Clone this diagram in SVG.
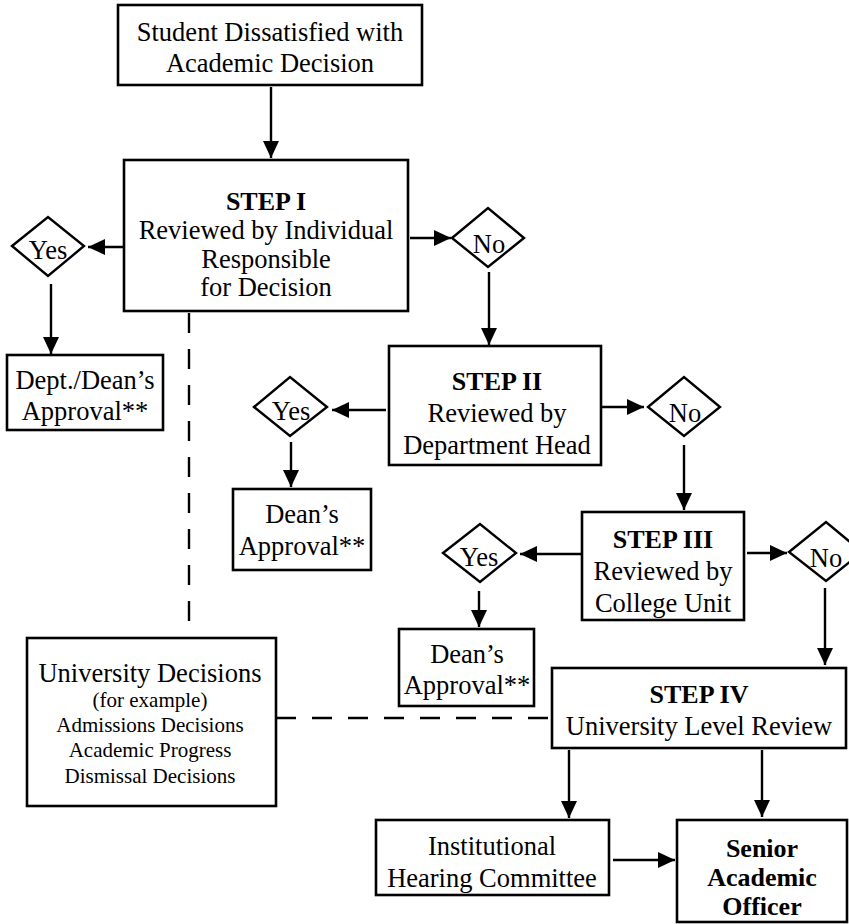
<svg xmlns="http://www.w3.org/2000/svg" width="849" height="924" viewBox="0 0 849 924">
<style>
  .box { fill: #fff; stroke: #000; stroke-width: 2.6; }
  .dia { fill: #fff; stroke: #000; stroke-width: 2.4; }
  .t { font-family: "Liberation Serif", "Times New Roman", serif; font-size: 26.5px; fill: #000; text-anchor: middle; }
  .b { font-weight: bold; font-size: 26px; }
  .s { font-size: 21px; }
  .c { stroke: #000; stroke-width: 2.4; fill: none; }
  .d { stroke: #000; stroke-width: 2.4; fill: none; stroke-dasharray: 20 16; }
</style>
<defs>
  <marker id="ah" viewBox="0 0 17 16" refX="17" refY="8" markerWidth="17" markerHeight="16" markerUnits="userSpaceOnUse" orient="auto">
    <path d="M0,0 L17,8 L0,16 Z" fill="#000"/>
  </marker>
</defs>
<rect width="849" height="924" fill="#fff"/>

<g id="connectors">
  <line class="c" x1="271" y1="87" x2="271" y2="158" marker-end="url(#ah)"/>
  <line class="c" x1="124" y1="247" x2="88" y2="247" marker-end="url(#ah)"/>
  <line class="c" x1="410" y1="238" x2="451" y2="238" marker-end="url(#ah)"/>
  <line class="c" x1="51" y1="284" x2="51" y2="354" marker-end="url(#ah)"/>
  <line class="c" x1="489" y1="272" x2="489" y2="345" marker-end="url(#ah)"/>
  <line class="c" x1="386" y1="410" x2="332" y2="410" marker-end="url(#ah)"/>
  <line class="c" x1="601" y1="407" x2="644" y2="407" marker-end="url(#ah)"/>
  <line class="c" x1="291" y1="442" x2="291" y2="487" marker-end="url(#ah)"/>
  <line class="c" x1="684" y1="445" x2="684" y2="510" marker-end="url(#ah)"/>
  <line class="c" x1="582" y1="554" x2="520" y2="554" marker-end="url(#ah)"/>
  <line class="c" x1="747" y1="553" x2="787" y2="553" marker-end="url(#ah)"/>
  <line class="c" x1="479" y1="591" x2="479" y2="627" marker-end="url(#ah)"/>
  <line class="c" x1="825" y1="588" x2="825" y2="665" marker-end="url(#ah)"/>
  <line class="c" x1="569" y1="750" x2="569" y2="818" marker-end="url(#ah)"/>
  <line class="c" x1="762" y1="750" x2="762" y2="817" marker-end="url(#ah)"/>
  <line class="c" x1="613" y1="860" x2="675" y2="860" marker-end="url(#ah)"/>
  <line class="d" x1="189" y1="313" x2="189" y2="638"/>
  <line class="d" x1="276" y1="718" x2="552" y2="718"/>
</g>

<g id="start">
  <rect class="box" x="118" y="5" width="304" height="80"/>
  <text class="t" x="270" y="41">Student Dissatisfied with</text>
  <text class="t" x="270" y="72">Academic Decision</text>
</g>

<g id="step1">
  <rect class="box" x="124" y="160" width="284" height="151"/>
  <text class="t b" x="266" y="210">STEP I</text>
  <text class="t" x="266" y="239">Reviewed by Individual</text>
  <text class="t" x="266" y="268">Responsible</text>
  <text class="t" x="266" y="296">for Decision</text>
</g>

<g id="yes1">
  <polygon class="dia" points="12,246 48,217 84,246 48,276"/>
  <text class="t" x="48" y="259">Yes</text>
</g>

<g id="no1">
  <polygon class="dia" points="452,238 488,208 524,238 488,267"/>
  <text class="t" x="489" y="253">No</text>
</g>

<g id="deptDean">
  <rect class="box" x="7" y="355" width="156" height="75"/>
  <text class="t" x="85" y="389">Dept./Dean’s</text>
  <text class="t" x="85" y="420">Approval**</text>
</g>

<g id="step2">
  <rect class="box" x="389" y="346" width="212" height="119"/>
  <text class="t b" x="497" y="390">STEP II</text>
  <text class="t" x="497" y="422">Reviewed by</text>
  <text class="t" x="497" y="454">Department Head</text>
</g>

<g id="yes2">
  <polygon class="dia" points="254,407 290,377 327,407 290,436"/>
  <text class="t" x="291" y="420">Yes</text>
</g>

<g id="no2">
  <polygon class="dia" points="648,407 684,377 720,407 684,436"/>
  <text class="t" x="685" y="422">No</text>
</g>

<g id="dean2">
  <rect class="box" x="233" y="489" width="138" height="81"/>
  <text class="t" x="302" y="523">Dean’s</text>
  <text class="t" x="302" y="555">Approval**</text>
</g>

<g id="step3">
  <rect class="box" x="582" y="512" width="162" height="108"/>
  <text class="t b" x="663" y="548">STEP III</text>
  <text class="t" x="663" y="580">Reviewed by</text>
  <text class="t" x="663" y="612">College Unit</text>
</g>

<g id="yes3">
  <polygon class="dia" points="443,553 480,524 516,553 480,582"/>
  <text class="t" x="479" y="566">Yes</text>
</g>

<g id="no3">
  <polygon class="dia" points="789,552 826,522 862,552 826,581"/>
  <text class="t" x="826" y="567">No</text>
</g>

<g id="dean3">
  <rect class="box" x="399" y="629" width="135" height="77"/>
  <text class="t" x="467" y="663">Dean’s</text>
  <text class="t" x="467" y="694">Approval**</text>
</g>

<g id="step4">
  <rect class="box" x="552" y="668" width="294" height="80"/>
  <text class="t b" x="699" y="703">STEP IV</text>
  <text class="t" x="699" y="735">University Level Review</text>
</g>

<g id="univ">
  <rect class="box" x="27" y="638" width="249" height="168"/>
  <text class="t" x="150" y="682">University Decisions</text>
  <text class="t s" x="150" y="707">(for example)</text>
  <text class="t s" x="150" y="732">Admissions Decisions</text>
  <text class="t s" x="150" y="757">Academic Progress</text>
  <text class="t s" x="150" y="783">Dismissal Decisions</text>
</g>

<g id="hearing">
  <rect class="box" x="376" y="820" width="233" height="75"/>
  <text class="t" x="492" y="855">Institutional</text>
  <text class="t" x="492" y="887">Hearing Committee</text>
</g>

<g id="senior">
  <rect class="box" x="677" y="820" width="170" height="102"/>
  <text class="t b" x="762" y="857">Senior</text>
  <text class="t b" x="762" y="886">Academic</text>
  <text class="t b" x="762" y="915">Officer</text>
</g>
</svg>
